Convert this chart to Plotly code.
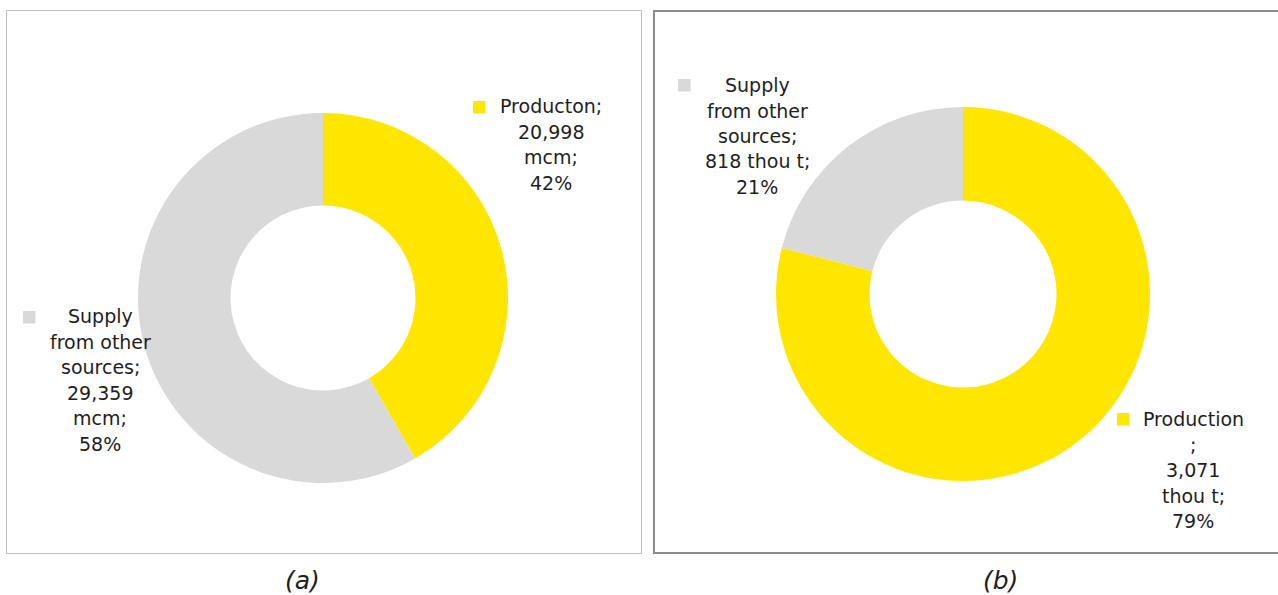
import plotly.graph_objects as go

W, H = 1278, 595

# (a) gas balance, million cubic metres
names_a = ["Producton", "Supply from other sources"]
values_a = [20998, 29359]
unit_a = "mcm"

# (b) oil balance, thousand tonnes
names_b = ["Production", "Supply from other sources"]
values_b = [3071, 818]
unit_b = "thou t"

slice_colors = ["#FFE600", "#D9D9D9"]
captions = ["(a)", "(b)"]


def px_x(x):
    return x / W


def px_y(y):
    return 1 - y / H


def pct_text(values):
    total = sum(values)
    return [f"{round(100 * v / total)}%" for v in values]


fig = go.Figure()

# donut geometry in pixels: centre x, centre y, outer radius
donuts = [
    (names_a, values_a, (323, 298, 185)),
    (names_b, values_b, (963, 294, 187)),
]
for names, values, (cx, cy, r) in donuts:
    fig.add_trace(go.Pie(
        labels=names,
        values=values,
        hole=0.5,
        sort=False,
        direction="clockwise",
        rotation=0,
        marker=dict(colors=slice_colors, line=dict(width=0)),
        textinfo="none",
        hoverinfo="label+value+percent",
        showlegend=False,
        domain=dict(x=[px_x(cx - r), px_x(cx + r)],
                    y=[px_y(cy + r), px_y(cy - r)]),
    ))

# data labels: line templates, text centre x, first line y, key square (x, y)
pa, pb = pct_text(values_a), pct_text(values_b)
fa = [f"{v:,}" for v in values_a]
fb = [f"{v:,}" for v in values_b]
labels = [
    ([f"{names_a[0]};", fa[0], f"{unit_a};", pa[0]], 551, 106, (473, 101), 0),
    (["Supply", "from other", "sources;", fa[1], f"{unit_a};", pa[1]], 100, 316, (23, 311), 1),
    (["Supply", "from other", "sources;", f"{fb[1]} {unit_b};", pb[1]], 757, 85, (678, 79), 1),
    ([names_b[0], ";", fb[0], f"{unit_b};", pb[0]], 1193, 419, (1117, 413), 0),
]
pitch = 25.5
annotations = []
shapes = []
for lines, tx, ty, (sx, sy), ci in labels:
    for i, line in enumerate(lines):
        annotations.append(dict(
            x=px_x(tx), y=px_y(ty + i * pitch), xref="paper", yref="paper",
            text=line, showarrow=False, xanchor="center", yanchor="middle",
            font=dict(family="DejaVu Sans", size=19, color="#1e1e1e"),
        ))
    shapes.append(dict(
        type="rect", xref="paper", yref="paper",
        x0=px_x(sx), x1=px_x(sx + 12.5), y0=px_y(sy + 12.5), y1=px_y(sy),
        fillcolor=slice_colors[ci], line=dict(width=0),
    ))

# panel frames
shapes.append(dict(
    type="rect", xref="paper", yref="paper",
    x0=px_x(6.5), x1=px_x(641.5), y0=px_y(553.5), y1=px_y(10.5),
    line=dict(color="#BDBDBD", width=1), fillcolor="rgba(0,0,0,0)", layer="below",
))
shapes.append(dict(
    type="rect", xref="paper", yref="paper",
    x0=px_x(654), x1=px_x(1282), y0=px_y(553), y1=px_y(11),
    line=dict(color="#8C8C8C", width=2), fillcolor="rgba(0,0,0,0)", layer="below",
))

# panel captions
for text, cx in zip(captions, [302, 1000]):
    annotations.append(dict(
        x=px_x(cx), y=px_y(580), xref="paper", yref="paper",
        text=f"<i>{text}</i>", showarrow=False, xanchor="center", yanchor="middle",
        font=dict(family="DejaVu Sans", size=25, color="#1e1e1e"),
    ))

fig.update_layout(
    width=W, height=H,
    margin=dict(l=0, r=0, t=0, b=0),
    paper_bgcolor="white",
    plot_bgcolor="white",
    annotations=annotations,
    shapes=shapes,
)

fig.write_html("out.html", include_plotlyjs=True, config={"displayModeBar": False})
